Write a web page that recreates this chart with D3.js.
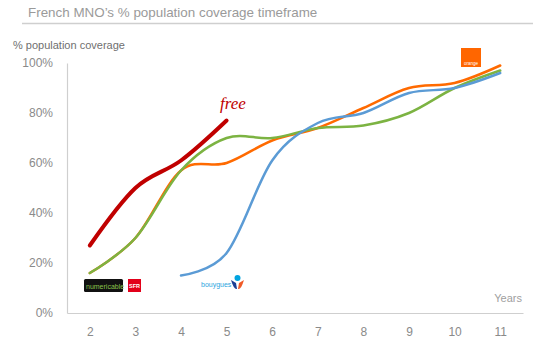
<!DOCTYPE html>
<html><head><meta charset="utf-8">
<script src="https://cdn.jsdelivr.net/npm/d3@7"></script>
<style>body{margin:0;background:#fff;}svg{display:block;font-family:"Liberation Sans",Arial,sans-serif;}</style>
</head><body>
<svg id="c" width="533" height="357"></svg>
<script>
const years = [2,3,4,5,6,7,8,9,10,11];
const yTicks = [0,0.2,0.4,0.6,0.8,1.0];
const freeVals     = [0.27,0.50,0.61,0.77,null,null,null,null,null,null];
const sfrVals      = [0.16,0.30,0.57,0.70,0.70,0.74,0.75,0.80,0.90,0.97];
const orangeVals   = [0.16,0.30,0.57,0.60,0.69,0.74,0.82,0.90,0.92,0.99];
const bouyguesVals = [null,null,0.15,0.24,0.61,0.76,0.80,0.88,0.90,0.96];

const svg = d3.select("#c");
const x = d3.scalePoint().domain(years).range([67,523]).padding(0.5);
const y = d3.scaleLinear().domain([0,1]).range([313,63]);

// title
svg.append("text").attr("x",28).attr("y",17).attr("font-size",13.4).attr("fill","#9a9a9a").text("French MNO\u2019s % population coverage timeframe");
svg.append("line").attr("x1",22).attr("x2",533).attr("y1",23.5).attr("y2",23.5).attr("stroke","#cfcfcf").attr("stroke-width",1.5);
svg.append("text").attr("x",13).attr("y",49).attr("font-size",11).attr("fill","#6f6f6f").text("% population coverage");

// axes
const yAxis = svg.append("g").attr("transform","translate(67,0)").call(d3.axisLeft(y).tickValues(yTicks).tickFormat(d3.format(".0%")).tickSize(0).tickPadding(14));
yAxis.select(".domain").attr("stroke","#cfcfcf").attr("stroke-width",1.2);
yAxis.selectAll("text").attr("font-size",12).attr("fill","#8a8a8a").attr("font-family","Liberation Sans, Arial, sans-serif");
const xAxis = svg.append("g").attr("transform","translate(0,313)").call(d3.axisBottom(x).tickSize(0).tickPadding(14));
xAxis.select(".domain").attr("stroke","#cfcfcf").attr("stroke-width",1.2);
xAxis.selectAll("text").attr("font-size",12).attr("fill","#8a8a8a").attr("font-family","Liberation Sans, Arial, sans-serif");
svg.append("text").attr("x",522).attr("y",302).attr("text-anchor","end").attr("font-size",11).attr("fill","#a0a0a0").text("Years");

const line = d3.line().defined(d=>d[1]!=null).x(d=>x(d[0])).y(d=>y(d[1])).curve(d3.curveCatmullRom.alpha(0));
const series = [
  {vals: orangeVals, color:"#ff6a00", w:2.5},
  {vals: sfrVals, color:"#7cb342", w:2.5},
  {vals: bouyguesVals, color:"#5b9bd5", w:2.5},
  {vals: freeVals, color:"#c00000", w:4}
];
series.forEach(s=>{
  svg.append("path").datum(years.map((yr,i)=>[yr,s.vals[i]])).attr("d",line)
    .attr("fill","none").attr("stroke",s.color).attr("stroke-width",s.w).attr("stroke-linecap","round");
});

// logos
svg.append("text").attr("x",220).attr("y",109).attr("font-size",17).attr("font-style","italic").attr("font-family","Liberation Serif, serif").attr("fill","#c00000").text("free");
svg.append("rect").attr("x",84).attr("y",279).attr("width",39).attr("height",13).attr("rx",1.5).attr("fill","#111");
svg.append("text").attr("x",86).attr("y",288.5).attr("font-size",7).attr("fill","#8bc34a").text("numericable");
svg.append("rect").attr("x",128).attr("y",279).attr("width",13).attr("height",13).attr("fill","#e2001a");
svg.append("text").attr("x",134.5).attr("y",288).attr("text-anchor","middle").attr("font-size",5.5).attr("font-weight","bold").attr("fill","#fff").text("SFR");
svg.append("text").attr("x",201).attr("y",287).attr("font-size",7).attr("fill","#2ca5de").text("bouygues");
svg.append("circle").attr("cx",237.5).attr("cy",278).attr("r",3).attr("fill","#00a4e0");
svg.append("path").attr("d","M231,280 Q234,290 237,289 L236,283 Z").attr("fill","#1c3f94");
svg.append("path").attr("d","M244,280 Q241,290 238,289 L239,283 Z").attr("fill","#f05a28");
svg.append("rect").attr("x",461).attr("y",48).attr("width",20).attr("height",19).attr("fill","#ff6600");
svg.append("text").attr("x",471).attr("y",65).attr("text-anchor","middle").attr("font-size",4.5).attr("fill","#fff").text("orange");
</script>
</body></html>
